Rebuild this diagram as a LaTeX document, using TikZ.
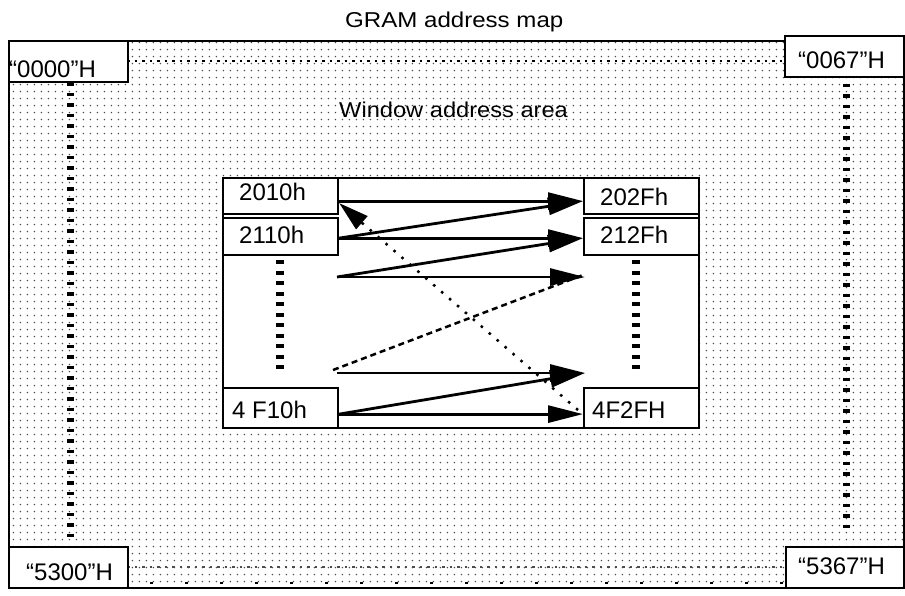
\documentclass[tikz,border=0pt]{standalone}
\usepackage{fontspec}
\setmainfont{Liberation Sans}
\usetikzlibrary{patterns.meta,arrows.meta,calc}
\begin{document}
\begin{tikzpicture}[x=1pt,y=-1pt,
  box/.style={draw, line width=2.2pt, fill=white, anchor=north west, inner sep=0pt},
  lbl/.style={anchor=base west, inner sep=0pt, font=\fontsize{24}{28}\selectfont},
  ttl/.style={anchor=base west, inner sep=0pt, font=\fontsize{21.5}{25}\selectfont},
  arr/.style={line width=2.8pt, -{Triangle[length=35pt,width=17pt]}},
  vdash/.style={line width=7pt, dash pattern=on 3.5pt off 7pt},
  idash/.style={line width=7.5pt, dash pattern=on 4pt off 6.5pt},
  hdot/.style={line width=2.5pt, dash pattern=on 2.5pt off 5pt, black},
  dotarr/.style={line width=2.5pt, dash pattern=on 2.5pt off 8pt, -{Triangle[length=30pt,width=17pt]}},
  dashln/.style={line width=2.5pt, dash pattern=on 6pt off 4pt},
]
\useasboundingbox (0,0) rectangle (905,595);
% outer dotted area
\node[draw, line width=2.2pt, anchor=north west, inner sep=0pt, minimum width=895pt, minimum height=547pt,
      pattern={Dots[distance=7.4pt,radius=0.9pt]}, pattern color=black!70] (outer) at (8,40) {};
% title
\node[ttl] (title) at (345,27) {\scalebox{1.12}[1]{GRAM address map}};
\node[ttl] (win) at (339,117) {\scalebox{1.1}[1]{Window address area}};
% dotted lines in area
\draw[hdot] (127,61) -- (784,61);
\draw[hdot, black!70] (127,567) -- (785,567);
\draw[line width=2.5pt, dash pattern=on 2.5pt off 32.5pt] (150,583) -- (785,583);
\draw[vdash] (70,82) -- (70,542);
\draw[vdash] (846,73) -- (846,528);
% corner boxes
\node[box, minimum width=119pt, minimum height=41pt] (b0000) at (8,40) {};
\node[box, minimum width=119pt, minimum height=41pt] (b0067) at (784,35) {};
\node[box, minimum width=119pt, minimum height=41pt] (b5300) at (8,546) {};
\node[box, minimum width=118pt, minimum height=41pt] (b5367) at (785,546) {};
\node[lbl] (t0000) at (9,77) {“0000”H};
\node[lbl] (t0067) at (798,68) {“0067”H};
\node[lbl] (t5300) at (26,580) {“5300”H};
\node[lbl] (t5367) at (798,574) {“5367”H};
% window area
\node[box, minimum width=476pt, minimum height=250pt] (win area) at (222,177) {};
\node[box, minimum width=115pt, minimum height=36pt] (b2010) at (222,177) {};
\node[box, minimum width=115pt, minimum height=37pt] (b2110) at (222,217) {};
\node[box, minimum width=115pt, minimum height=36pt] (b202F) at (583,177) {};
\node[box, minimum width=115pt, minimum height=37pt] (b212F) at (583,217) {};
\node[box, minimum width=115pt, minimum height=40pt] (b4F10) at (222,387) {};
\node[box, minimum width=115pt, minimum height=40pt] (b4F2F) at (583,387) {};
\node[lbl] (t2010) at (239,200) {2010h};
\node[lbl] (t2110) at (239,243) {2110h};
\node[lbl] (t202F) at (600,205) {202Fh};
\node[lbl] (t212F) at (600,243) {212Fh};
\node[lbl] (t4F10) at (232,418) {4 F10h};
\node[lbl] (t4F2F) at (592,418) {4F2FH};
\draw[idash] (280,260) -- (280,369);
\draw[idash] (636,260) -- (636,369);
% free ends
\coordinate (m1) at (337,277);
\coordinate (m2) at (585,277);
\coordinate (m3) at (333,370);
\coordinate (m4) at (337,373);
\coordinate (m5) at (585,373);
\coordinate (m6) at (583,275);
\coordinate (m7) at (578,410);
% arrows
\draw[arr] ([yshift=-5pt]b2010.east) -- ([yshift=-5pt]b202F.west);
\draw[arr] ([yshift=-1.5pt]b2110.east) -- ([yshift=-5pt]b202F.west);
\draw[arr] ([yshift=-1.5pt]b2110.east) -- ([yshift=-1.5pt]b212F.west);
\draw[arr] (m1) -- ([yshift=-1.5pt]b212F.west);
\draw[arr] (m1) -- (m2);
\draw[dashln] (m3) -- (m6);
\draw[arr] (m4) -- (m5);
\draw[arr] ([yshift=-6pt]b4F10.east) -- (m5);
\draw[arr] ([yshift=-6pt]b4F10.east) -- ([yshift=-6pt]b4F2F.west);
\draw[dotarr] (m7) -- ([yshift=-7pt]b2010.east);
\end{tikzpicture}
\end{document}
